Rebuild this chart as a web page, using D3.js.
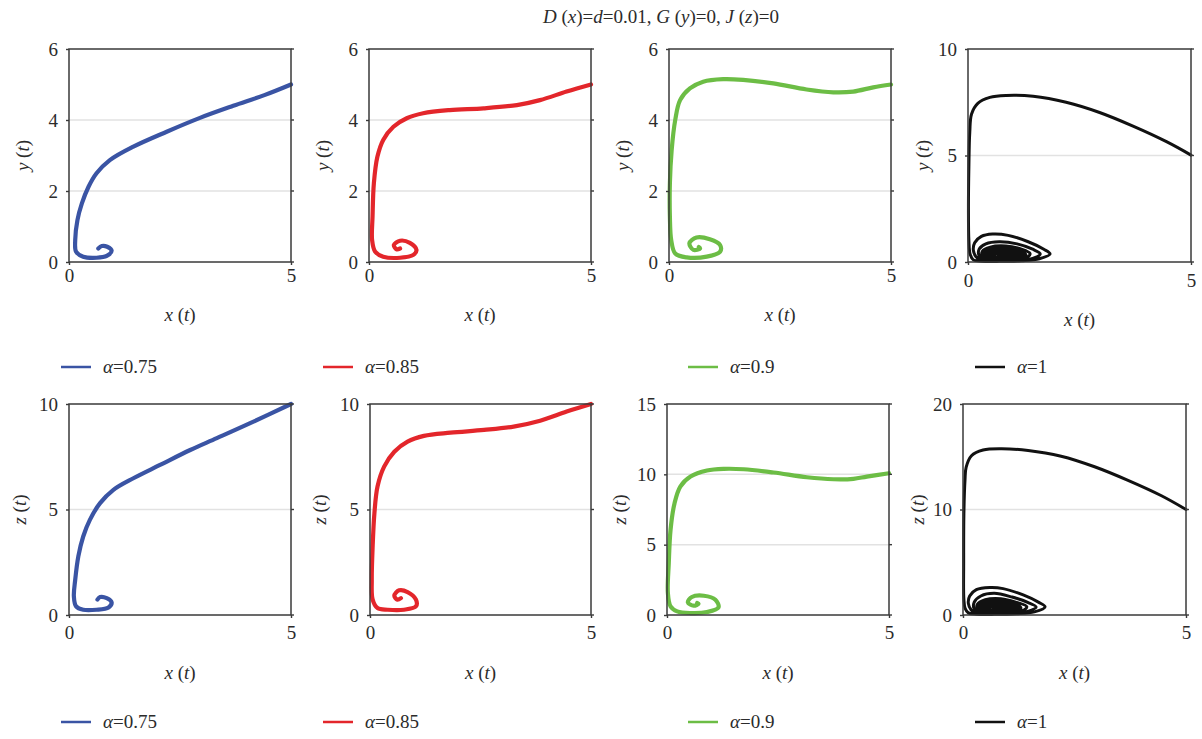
<!DOCTYPE html>
<html>
<head>
<meta charset="utf-8">
<script src="https://cdn.jsdelivr.net/npm/d3@7"></script>
<style>
  html, body { margin: 0; padding: 0; background: #fff; }
  svg { display: block; }
  text { font-family: "Liberation Serif", "DejaVu Serif", serif; fill: #2b2b2b; }
</style>
</head>
<body>
<svg id="chart" width="1202" height="739"></svg>
<script>
// Phase-plane trajectories, x(t) against y(t) (top row) and z(t) (bottom row)
const alphas = ["0.75", "0.85", "0.9", "1"];
const colors = ["#3a54a4", "#e3262b", "#6cbd45", "#111111"];

// x-y trajectories
const xy075 = [[5,5.0],[4.4,4.7],[3.7,4.4],[2.95,4.06],[2.2,3.67],[1.45,3.25],[0.92,2.87],[0.62,2.5],[0.44,2.12],
  [0.29,1.65],[0.19,1.18],[0.14,0.62],[0.16,0.29],[0.32,0.15],[0.62,0.12],[0.85,0.17],[0.96,0.32],[0.86,0.43],[0.74,0.45],[0.66,0.38]];
const xy085 = [[5,5.0],[4.45,4.8],[3.85,4.56],[3.33,4.42],[2.58,4.33],[1.82,4.28],[1.22,4.19],[0.85,4.05],[0.55,3.81],
  [0.32,3.44],[0.19,2.97],[0.11,2.22],[0.08,1.28],[0.07,0.62],[0.14,0.29],[0.32,0.15],[0.7,0.12],[1.0,0.2],[1.07,0.34],
  [0.92,0.54],[0.7,0.6],[0.56,0.48],[0.62,0.36],[0.7,0.38]];
const xy09 = [[5,5.0],[4.6,4.92],[4.15,4.8],[3.7,4.78],[3.1,4.86],[2.35,5.03],[1.67,5.13],[1.22,5.15],[0.77,5.08],
  [0.47,4.89],[0.25,4.56],[0.14,4.0],[0.06,3.15],[0.02,2.22],[0.02,1.28],[0.05,0.62],[0.14,0.24],[0.4,0.13],[0.85,0.15],
  [1.15,0.29],[1.15,0.48],[0.92,0.64],[0.62,0.69],[0.46,0.53],[0.55,0.34],[0.7,0.38],[0.67,0.42]];
const xy1 = [[5,5.02],[4.45,5.65],[3.7,6.38],[2.95,7.02],[2.2,7.5],[1.46,7.78],[0.86,7.82],[0.49,7.73],[0.22,7.45],
  [0.08,6.95],[0.04,6.1],[0.02,4.5],[0.01,2.5],[0.02,1.0],[0.05,0.35],[0.12,0.1],[0.3,0.04],
  [0.7,0.03],[1.2,0.06],[1.6,0.15],[1.84,0.38],[1.7,0.6],[1.35,0.95],[0.9,1.25],[0.55,1.31],[0.3,1.2],[0.15,0.9],
  [0.12,0.55],[0.18,0.25],[0.3,0.08],[0.6,0.04],
  [1.1,0.07],[1.45,0.17],[1.62,0.38],[1.45,0.6],[1.1,0.85],[0.7,0.95],[0.4,0.85],[0.25,0.6],[0.25,0.3],[0.38,0.1],[0.7,0.05],
  [1.1,0.09],[1.35,0.25],[1.39,0.4],[1.2,0.6],[0.85,0.75],[0.5,0.7],[0.32,0.5],[0.33,0.25],[0.5,0.08],[0.8,0.06],
  [1.15,0.14],[1.3,0.33],[1.15,0.55],[0.8,0.68],[0.48,0.62],[0.34,0.42],[0.38,0.18],[0.55,0.06],[0.9,0.07],
  [1.2,0.2],[1.25,0.38],[1.05,0.57],[0.75,0.63],[0.48,0.55],[0.38,0.33],[0.45,0.12],[0.7,0.06],[1.0,0.1],
  [1.18,0.26],[1.17,0.42],[0.95,0.55],[0.7,0.58],[0.48,0.47],[0.42,0.28],[0.52,0.1],[0.8,0.08],
  [1.1,0.2],[1.12,0.38],[0.92,0.5],[0.66,0.52],[0.5,0.4],[0.48,0.22],[0.6,0.1],[0.85,0.1],
  [1.08,0.25],[1.06,0.39],[0.86,0.48],[0.62,0.46],[0.52,0.32],[0.58,0.15],[0.82,0.14],
  [1.02,0.26],[0.98,0.38],[0.8,0.44],[0.62,0.4],[0.56,0.26],[0.66,0.16],[0.86,0.18],
  [0.98,0.27],[0.93,0.37],[0.74,0.41],[0.6,0.34],[0.64,0.22],[0.8,0.21],[0.9,0.29],[0.78,0.35],[0.68,0.3],[0.75,0.24],[0.83,0.28]];

// x-z trajectories
const xz075 = [[5,10],[4.08,9.09],[3.33,8.38],[2.73,7.82],[2.05,7.11],[1.45,6.48],[1.0,5.93],[0.7,5.3],[0.47,4.51],
  [0.32,3.72],[0.21,2.78],[0.14,1.67],[0.11,0.88],[0.16,0.41],[0.32,0.25],[0.62,0.25],[0.89,0.36],[0.96,0.6],
  [0.85,0.8],[0.7,0.85],[0.64,0.73]];
const xz085 = [[5,10],[4.45,9.64],[3.85,9.21],[3.25,8.93],[2.58,8.77],[1.82,8.64],[1.22,8.49],[0.85,8.22],[0.55,7.74],
  [0.32,7.03],[0.17,6.09],[0.1,4.83],[0.06,3.25],[0.04,1.67],[0.06,0.73],[0.17,0.33],[0.4,0.25],[0.77,0.25],
  [1.04,0.41],[1.04,0.73],[0.85,1.09],[0.66,1.17],[0.55,0.91],[0.62,0.73],[0.7,0.8]];
const xz09 = [[5,10.08],[4.5,9.84],[4.2,9.68],[3.75,9.65],[3.15,9.79],[2.4,10.13],[1.73,10.36],[1.28,10.39],[0.9,10.27],
  [0.53,9.84],[0.3,9.13],[0.17,7.95],[0.08,6.06],[0.04,3.69],[0.02,1.56],[0.08,0.62],[0.23,0.26],[0.53,0.14],
  [0.9,0.21],[1.16,0.54],[1.09,1.09],[0.83,1.37],[0.56,1.28],[0.47,0.9],[0.6,0.66],[0.71,0.8],[0.68,0.86]];
const xz1 = [[5,10.0],[4.45,11.3],[3.7,12.76],[2.95,14.05],[2.2,15.05],[1.46,15.6],[0.86,15.76],[0.45,15.64],[0.19,15.1],
  [0.07,14.0],[0.045,12.8],[0.02,9.6],[0.015,4.9],[0.02,1.45],[0.05,0.6],[0.12,0.2],[0.3,0.08],
  [0.7,0.06],[1.2,0.12],[1.6,0.3],[1.84,0.78],[1.7,1.2],[1.35,1.9],[0.9,2.5],[0.6,2.6],[0.3,2.4],[0.15,1.8],
  [0.12,1.1],[0.18,0.5],[0.3,0.16],[0.6,0.08],
  [1.1,0.14],[1.45,0.34],[1.64,0.76],[1.45,1.2],[1.1,1.7],[0.7,2.05],[0.4,1.8],[0.25,1.2],[0.25,0.6],[0.38,0.2],[0.7,0.1],
  [1.1,0.18],[1.38,0.5],[1.43,0.8],[1.2,1.2],[0.85,1.55],[0.5,1.45],[0.32,1.0],[0.33,0.5],[0.5,0.16],[0.8,0.12],
  [1.15,0.28],[1.3,0.66],[1.15,1.1],[0.8,1.36],[0.48,1.24],[0.34,0.84],[0.38,0.36],[0.55,0.12],[0.9,0.14],
  [1.2,0.4],[1.25,0.76],[1.05,1.14],[0.75,1.26],[0.48,1.1],[0.38,0.66],[0.45,0.24],[0.7,0.12],[1.0,0.2],
  [1.18,0.52],[1.17,0.84],[0.95,1.1],[0.7,1.16],[0.48,0.94],[0.42,0.56],[0.52,0.2],[0.8,0.16],
  [1.1,0.4],[1.12,0.76],[0.92,1.0],[0.66,1.04],[0.5,0.8],[0.48,0.44],[0.6,0.2],[0.85,0.2],
  [1.08,0.5],[1.06,0.78],[0.86,0.96],[0.62,0.92],[0.52,0.64],[0.58,0.3],[0.82,0.28],
  [1.02,0.52],[0.98,0.76],[0.8,0.88],[0.62,0.8],[0.56,0.52],[0.66,0.32],[0.86,0.36],
  [0.98,0.54],[0.93,0.74],[0.74,0.82],[0.6,0.68],[0.64,0.44],[0.8,0.42],[0.9,0.58],[0.78,0.7],[0.68,0.6],[0.75,0.48],[0.83,0.56]];

// axis ticks
const yTicksTop = [[0,2,4,6],[0,2,4,6],[0,2,4,6],[0,5,10]];
const zTicksBottom = [[0,5,10],[0,5,10],[0,5,10,15],[0,10,20]];
const xTicks = [0, 5];

const svg = d3.select("#chart");

// panel frames [left, right, top, bottom]
const topFrames = [[69,291,49,262],[369,591,49,262],[669,891,49,262],[968,1191,49,262]];
const botFrames = [[69,291,404,615],[370,591,404,615],[667,889,404,615],[963,1186,404,615]];

function italicLabel(sel, v) {
  // "x (t)" style label with italic letters
  sel.append("tspan").attr("font-style", "italic").text(v);
  sel.append("tspan").text(" (");
  sel.append("tspan").attr("font-style", "italic").text("t");
  sel.append("tspan").text(")");
}

function panel(frame, data, yTicks, color, yName, opts) {
  const [l, r, t, b] = frame;
  const x = d3.scaleLinear().domain([0, 5]).range([l, r]);
  const y = d3.scaleLinear().domain([0, d3.max(yTicks)]).range([b, t]);
  const g = svg.append("g");

  // light horizontal gridlines
  g.selectAll(".grid").data(yTicks.slice(1, -1)).join("line")
    .attr("x1", l).attr("x2", r).attr("y1", d => y(d)).attr("y2", d => y(d))
    .attr("stroke", "#e2e2e2").attr("stroke-width", 1.5);

  // trajectory
  const line = d3.line().x(d => x(d[0])).y(d => y(d[1])).curve(d3.curveCatmullRom.alpha(0.5));
  g.append("path").attr("d", line(data)).attr("fill", "none")
    .attr("stroke", color).attr("stroke-width", opts.lw)
    .attr("stroke-linejoin", "round").attr("stroke-linecap", "round");

  // frame
  g.append("rect").attr("x", l).attr("y", t).attr("width", r - l).attr("height", b - t)
    .attr("fill", "none").attr("stroke", "#3a3a3a").attr("stroke-width", 1.5);

  // left axis
  const ya = d3.axisLeft(y).tickValues(yTicks).tickSize(3).tickPadding(8).tickFormat(d3.format("d"));
  const yg = g.append("g").attr("transform", `translate(${l},0)`).call(ya).attr("font-family", null).attr("font-size", null);
  yg.select(".domain").remove();
  yg.selectAll("line").attr("stroke", "#3a3a3a").attr("stroke-width", 1.4);
  yg.selectAll("text").attr("font-size", 19).attr("fill", "#2b2b2b");

  // right-side tick marks
  g.selectAll(".rt").data(yTicks).join("line")
    .attr("x1", r).attr("x2", r + 3).attr("y1", d => y(d)).attr("y2", d => y(d))
    .attr("stroke", "#3a3a3a").attr("stroke-width", 1.4);

  // bottom axis
  const xa = d3.axisBottom(x).tickValues(xTicks).tickSize(3).tickPadding(opts.xpad).tickFormat(d3.format("d"));
  const xg = g.append("g").attr("transform", `translate(0,${b})`).call(xa).attr("font-family", null).attr("font-size", null);
  xg.select(".domain").remove();
  xg.selectAll("line").attr("stroke", "#3a3a3a").attr("stroke-width", 1.4);
  xg.selectAll("text").attr("font-size", 19).attr("fill", "#2b2b2b");

  // axis titles
  g.append("text").attr("x", (l + r) / 2).attr("y", opts.xTitleY)
    .attr("text-anchor", "middle").attr("font-size", 19).call(italicLabel, "x");
  g.append("text").attr("transform", `translate(${opts.yTitleX},${(t + b) / 2}) rotate(-90)`)
    .attr("text-anchor", "middle").attr("font-size", 19).call(italicLabel, yName);
}

const topData = [xy075, xy085, xy09, xy1];
const botData = [xz075, xz085, xz09, xz1];
const topYTitleX = [29, 329, 629, 929];
const botYTitleX = [26, 326, 626, 924];

topData.forEach((d, i) => panel(topFrames[i], d, yTicksTop[i], colors[i], "y", {
  lw: i === 3 ? 3 : 4.2, xpad: i === 3 ? 9 : 4, xTitleY: i === 3 ? 326 : 321, yTitleX: topYTitleX[i]
}));
botData.forEach((d, i) => panel(botFrames[i], d, zTicksBottom[i], colors[i], "z", {
  lw: i === 3 ? 3 : 4.2, xpad: 8, xTitleY: 679, yTitleX: botYTitleX[i]
}));

// legends
const legendX = [61, 323, 688, 975];
[367, 722].forEach(ly => {
  alphas.forEach((a, i) => {
    const lg = svg.append("g");
    lg.append("line").attr("x1", legendX[i]).attr("x2", legendX[i] + 30)
      .attr("y1", ly).attr("y2", ly).attr("stroke", colors[i]).attr("stroke-width", 2.5);
    const tx = lg.append("text").attr("x", legendX[i] + 42).attr("y", ly + 6).attr("font-size", 19);
    tx.append("tspan").attr("font-style", "italic").text("α");
    tx.append("tspan").text("=" + a);
  });
});

// title
const title = svg.append("text").attr("x", 661).attr("y", 23).attr("text-anchor", "middle").attr("font-size", 19);
[["D", 1], [" (", 0], ["x", 1], [")=", 0], ["d", 1], ["=0.01, ", 0], ["G", 1], [" (", 0], ["y", 1], [")=0, ", 0],
 ["J", 1], [" (", 0], ["z", 1], [")=0", 0]].forEach(([s, it]) => {
  title.append("tspan").attr("font-style", it ? "italic" : "normal").text(s);
});
</script>
</body>
</html>
